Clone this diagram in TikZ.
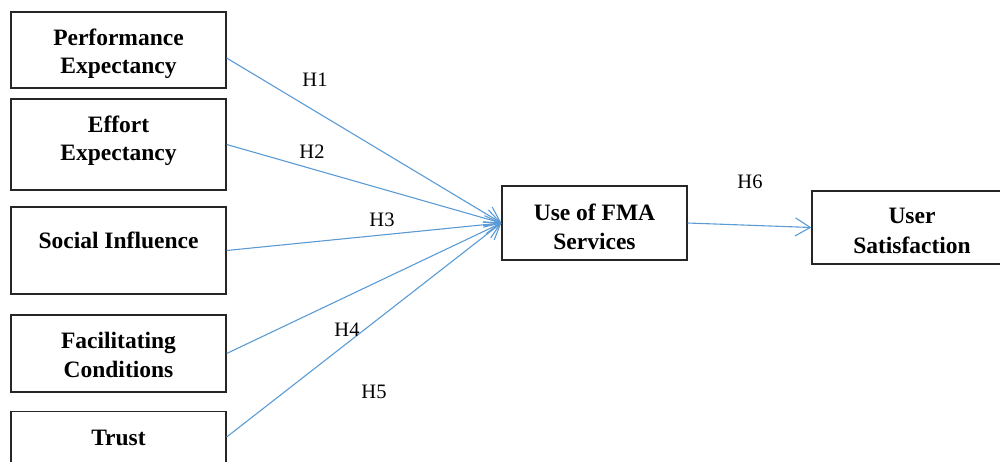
\documentclass[tikz,border=0pt]{standalone}
\usepackage{fontspec}
\setmainfont{Liberation Serif}
\usetikzlibrary{arrows.meta}
\definecolor{linkblue}{RGB}{91,155,213}
\begin{document}
\begin{tikzpicture}[x=1pt,y=-1pt,
  box/.style={draw=black!85,line width=1.3pt,inner sep=0pt},
  boxtext/.style={font=\bfseries\fontsize{23.5}{29}\selectfont,inner sep=0pt,anchor=base},
  hyp/.style={font=\fontsize{20.5}{24}\selectfont,inner sep=0pt},
  conn/.style={draw=linkblue,line width=1.1pt,-{Straight Barb[length=15pt,width=18pt,line width=1.1pt]}}]
\useasboundingbox (0,0) rectangle (1000,461);
\clip (0,0) rectangle (1000,461);
% boxes
\node[box,minimum width=215pt,minimum height=76pt] (pe) at (118.5,50) {};
\node[box,minimum width=215pt,minimum height=91pt] (ee) at (118.5,144.5) {};
\node[box,minimum width=215pt,minimum height=87pt] (si) at (118.5,250.5) {};
\node[box,minimum width=215pt,minimum height=77pt] (fc) at (118.5,353.5) {};
\node[box,minimum width=215pt,minimum height=51pt] (tr) at (118.5,437) {};
\node[box,minimum width=185pt,minimum height=74pt] (fma) at (594.5,223) {};
\node[box,minimum width=200pt,minimum height=73pt] (us) at (912,227.5) {};
% box texts
\node[boxtext] (pe1) at (118.5,45) {Performance};
\node[boxtext] (pe2) at (118.5,73) {Expectancy};
\node[boxtext] (ee1) at (118.5,132) {Effort};
\node[boxtext] (ee2) at (118.5,160.5) {Expectancy};
\node[boxtext] (si1) at (118.5,248) {Social Influence};
\node[boxtext] (fc1) at (118.5,348) {Facilitating};
\node[boxtext] (fc2) at (118.5,377) {Conditions};
\node[boxtext] (tr1) at (118.5,445) {Trust};
\node[boxtext] (fma1) at (594.5,220) {Use of FMA};
\node[boxtext] (fma2) at (594.5,249) {Services};
\node[boxtext] (us1) at (912,223) {User};
\node[boxtext] (us2) at (912,253) {Satisfaction};
% connectors
\draw[conn] ([yshift=-8pt]pe.east) -- (fma.west);
\draw[conn] (ee.east) -- (fma.west);
\draw[conn] (si.east) -- (fma.west);
\draw[conn] (fc.east) -- (fma.west);
\draw[conn] (tr.east) -- (fma.west);
\draw[conn] (fma.east) -- (us.west);
% hypothesis labels
\node[hyp] (h1) at (315,80) {H1};
\node[hyp] (h2) at (312,152) {H2};
\node[hyp] (h3) at (382,220) {H3};
\node[hyp] (h4) at (347,330) {H4};
\node[hyp] (h5) at (374,392) {H5};
\node[hyp] (h6) at (750,182) {H6};
\end{tikzpicture}
\end{document}
